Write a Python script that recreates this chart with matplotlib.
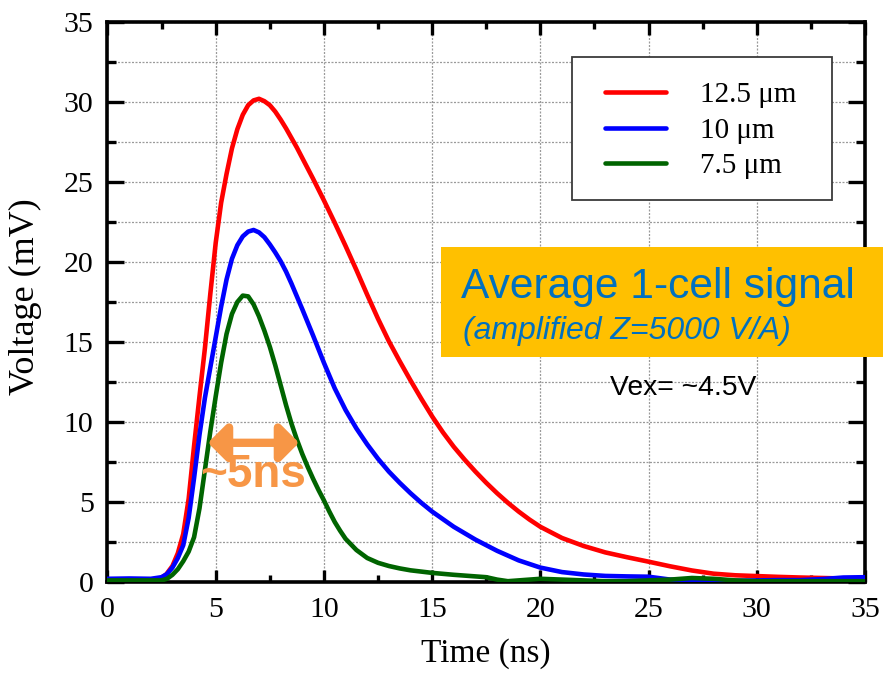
import matplotlib
matplotlib.use("Agg")
import matplotlib.pyplot as plt
from matplotlib.patches import Rectangle
from matplotlib.ticker import MultipleLocator

# Averaged single-cell pulse shapes for three cell pitches
t_red = [0, 1, 2, 2.4, 2.7, 3.0, 3.25, 3.5, 3.75, 4.0, 4.25, 4.5, 4.75, 5.0, 5.25, 5.5,
         5.75, 6.0, 6.25, 6.5, 6.75, 7.0, 7.25, 7.5, 7.75, 8.0, 8.25, 8.5, 8.75, 9.0, 9.5,
         10.0, 10.5, 11.0, 11.5, 12.0, 12.5, 13.0, 13.5, 14.0, 14.5, 15.0, 15.5, 16.0, 16.5,
         17.0, 17.5, 18.0, 18.5, 19.0, 19.5, 20.0, 21.0, 22.0, 23.0, 24.0, 25.0, 26.0, 27.0,
         28.0, 29.0, 30.0, 31.0, 32.0, 33.0, 34.0, 35.0]
v_red = [0.15, 0.15, 0.15, 0.2, 0.45, 1.0, 1.8, 3.0, 5.2, 8.5, 11.6, 14.6, 18.0, 21.2, 23.7, 25.5,
         27.1, 28.3, 29.2, 29.8, 30.1, 30.2, 30.05, 29.8, 29.4, 28.9, 28.35, 27.75, 27.15, 26.5, 25.2,
         23.85, 22.45, 21.0, 19.5, 17.95, 16.45, 15.05, 13.8, 12.6, 11.45, 10.35, 9.35, 8.45, 7.65,
         6.9, 6.2, 5.55, 4.95, 4.4, 3.9, 3.45, 2.75, 2.25, 1.85, 1.55, 1.27, 0.98, 0.72,
         0.52, 0.42, 0.37, 0.32, 0.28, 0.25, 0.22, 0.2]

t_blue = [0, 1, 2, 2.5, 2.75, 3.0, 3.25, 3.5, 3.75, 4.0, 4.25, 4.5, 4.75, 5.0, 5.25, 5.5,
          5.75, 6.0, 6.25, 6.5, 6.75, 7.0, 7.25, 7.5, 7.75, 8.0, 8.25, 8.5, 8.75, 9.0, 9.5,
          10.0, 10.5, 11.0, 11.5, 12.0, 12.5, 13.0, 13.5, 14.0, 14.5, 15.0, 16.0, 17.0, 18.0,
          19.0, 20.0, 21.0, 22.0, 23.0, 24.0, 25.0, 26.0, 27.0, 28.0, 29.0, 30.0, 31.0, 32.0,
          33.0, 34.0, 35.0]
v_blue = [0.2, 0.22, 0.2, 0.3, 0.5, 0.9, 1.5, 2.3, 4.0, 6.5, 9.2, 11.5, 13.4, 15.3, 17.2, 18.9,
          20.2, 21.05, 21.6, 21.9, 22.0, 21.85, 21.55, 21.1, 20.6, 20.05, 19.4, 18.65, 17.85, 17.05, 15.4,
          13.7, 12.1, 10.75, 9.6, 8.6, 7.7, 6.9, 6.2, 5.55, 4.95, 4.4, 3.45, 2.65, 1.95,
          1.35, 0.9, 0.62, 0.47, 0.38, 0.35, 0.33, 0.15, 0.08, 0.05, 0.08, 0.1, 0.12, 0.12,
          0.18, 0.28, 0.3]

t_green = [0, 1, 2, 2.5, 2.75, 3.0, 3.25, 3.5, 3.75, 4.0, 4.25, 4.5, 4.75, 5.0, 5.25, 5.5,
           5.75, 6.0, 6.25, 6.5, 6.75, 7.0, 7.25, 7.5, 7.75, 8.0, 8.25, 8.5, 8.75, 9.0, 9.25,
           9.5, 9.75, 10.0, 10.25, 10.5, 10.75, 11.0, 11.5, 12.0, 12.5, 13.0, 13.5, 14.0, 15.0,
           16.0, 17.0, 17.5, 18.0, 18.5, 19.0, 20.0, 21.0, 22.0, 23.0, 24.0, 25.0, 26.0, 27.0,
           28.0, 29.0, 30.0, 32.0, 35.0]
v_green = [0.1, 0.1, 0.1, 0.1, 0.2, 0.45, 0.8, 1.3, 1.9, 2.8, 4.6, 7.0, 9.4, 11.6, 13.7, 15.5,
           16.75, 17.5, 17.9, 17.85, 17.35, 16.6, 15.7, 14.7, 13.55, 12.3, 11.05, 9.9, 8.9, 8.0, 7.2,
           6.45, 5.75, 5.1, 4.4, 3.75, 3.2, 2.7, 2.0, 1.5, 1.2, 1.0, 0.85, 0.73, 0.57,
           0.45, 0.35, 0.3, 0.15, 0.05, 0.1, 0.2, 0.15, 0.1, 0.05, 0.05, 0.1, 0.15, 0.25,
           0.2, 0.1, 0.05, 0.05, 0.05]

series_labels = ["12.5 \u03bcm", "10 \u03bcm", "7.5 \u03bcm"]
series_colors = ["#ff0000", "#0000ff", "#006400"]

x_ticks = [0, 5, 10, 15, 20, 25, 30, 35]
y_ticks = [0, 5, 10, 15, 20, 25, 30, 35]

pulse_width_span = [4.64, 8.85]
pulse_width_level = 8.7
pulse_width_text = "~5ns"

title_main = "Average 1-cell signal"
title_sub = "(amplified Z=5000 V/A)"
bias_text = "Vex= ~4.5V"

SERIF = ["Liberation Serif", "DejaVu Serif"]
SANS = ["Liberation Sans", "DejaVu Sans"]

fig = plt.figure(figsize=(8.83, 6.74), dpi=100)
ax = fig.add_axes([0.12174, 0.13650, 0.85788, 0.83086])

ax.set_xlim(0, 35)
ax.set_ylim(0, 35)

# grid: every major x tick, every 2.5 mV on y
ax.xaxis.set_major_locator(MultipleLocator(5))
ax.xaxis.set_minor_locator(MultipleLocator(2.5))
ax.yaxis.set_major_locator(MultipleLocator(5))
ax.yaxis.set_minor_locator(MultipleLocator(2.5))
ax.set_xticks(x_ticks)
ax.set_yticks(y_ticks)
grid_kw = dict(color="#9a9a9a", linestyle=(0, (1.6, 1.2)), linewidth=0.9)
ax.grid(True, which="major", axis="x", **grid_kw)
ax.grid(True, which="both", axis="y", **grid_kw)
ax.set_axisbelow(True)

for sp in ax.spines.values():
    sp.set_linewidth(2.6)
    sp.set_color("black")

ax.tick_params(axis="both", which="both", direction="in", top=True, right=True,
               color="black")
ax.tick_params(axis="x", which="major", length=9, width=2.4, pad=11)
ax.tick_params(axis="x", which="minor", length=5, width=2.4)
ax.tick_params(axis="y", which="major", length=12, width=2.4, pad=10)
ax.tick_params(axis="y", which="minor", length=6.5, width=2.4)

for lab in ax.get_xticklabels() + ax.get_yticklabels():
    lab.set_fontfamily(SERIF)
    lab.set_fontsize(21.5)

curves = [(t_red, v_red), (t_blue, v_blue), (t_green, v_green)]
handles = []
for (tt, vv), lbl, col in zip(curves, series_labels, series_colors):
    h, = ax.plot(tt, vv, color=col, linewidth=3.3, label=lbl, zorder=3,
                 solid_joinstyle="round", solid_capstyle="round")
    handles.append(h)

ax.set_xlabel("Time (ns)", fontsize=24, family=SERIF)
ax.xaxis.set_label_coords(0.5, -0.1)
ax.set_ylabel("Voltage (mV)", fontsize=26, family=SERIF)
ax.yaxis.set_label_coords(-0.087, 0.51)

# legend frame drawn separately so the handles sit with the wider inner margin
frame = Rectangle((0.6128, 0.6821), 0.3432, 0.2559, transform=ax.transAxes,
                  facecolor="white", edgecolor="#3a3a3a", linewidth=1.3, zorder=4)
ax.add_patch(frame)
leg = ax.legend(handles=handles, loc="upper left", bbox_to_anchor=(0.6568, 0.8929),
                frameon=False, borderpad=0, borderaxespad=0, handlelength=2.1,
                handletextpad=1.15, labelspacing=0.31,
                prop=dict(family=SERIF, size=21))
leg.set_zorder(5)

# pulse-width marker
ax.annotate("", xy=(pulse_width_span[1], pulse_width_level),
            xytext=(pulse_width_span[0], pulse_width_level),
            arrowprops=dict(arrowstyle="<|-|>,head_length=0.55,head_width=0.55",
                            color="#f79646", lw=6, shrinkA=0, shrinkB=0,
                            mutation_scale=20),
            zorder=6)
ax.text(sum(pulse_width_span) / 2, 6.7, pulse_width_text, color="#f79646",
        fontsize=33, fontweight="bold", family=SANS, ha="center", va="center", zorder=6)

# annotation box, running past the right edge of the plot
fig.add_artist(Rectangle((441 / 883, 1 - 357 / 674), (883 - 441) / 883, 110 / 674,
                         transform=fig.transFigure, facecolor="#ffc000",
                         edgecolor="none", zorder=5))
fig.text(461 / 883, 1 - 298 / 674, title_main, color="#0070c0", fontsize=30.6,
         family=SANS, ha="left", va="baseline", zorder=6)
fig.text(463 / 883, 1 - 339 / 674, title_sub, color="#0070c0", fontsize=23,
         family=SANS, style="italic", ha="left", va="baseline", zorder=6)
fig.text(610 / 883, 1 - 395 / 674, bias_text, color="black", fontsize=20.3,
         family=SANS, ha="left", va="baseline", zorder=6)

fig.savefig("out.png", dpi=100)
